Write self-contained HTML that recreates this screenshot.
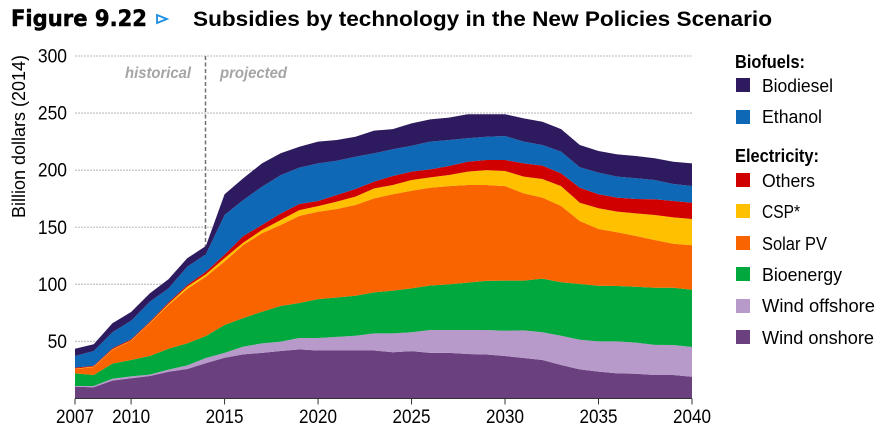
<!DOCTYPE html>
<html lang="en">
<head>
<meta charset="utf-8">
<title>Subsidies by technology in the New Policies Scenario</title>
<style>
html,body{margin:0;padding:0;background:#fff;width:890px;height:433px;overflow:hidden}
svg{display:block;font-family:"Liberation Sans",sans-serif}
</style>
</head>
<body>
<svg id="chart" width="890" height="433" viewBox="0 0 890 433" xmlns="http://www.w3.org/2000/svg">
  <text x="11" y="26" font-family="'DejaVu Sans',sans-serif" font-weight="700" font-size="22" fill="#000" stroke="#000" stroke-width="0.5" textLength="136" lengthAdjust="spacingAndGlyphs">Figure 9.22</text>
  <polygon points="157,15 167,19 157,23" fill="#fff" stroke="#1b8fe0" stroke-width="1.8"/>
  <text x="193" y="26" font-weight="700" font-size="21.5" fill="#000" textLength="579" lengthAdjust="spacingAndGlyphs">Subsidies by technology in the New Policies Scenario</text>

  <g id="grid"></g>
  <line x1="205.5" y1="56" x2="205.5" y2="300" stroke="#707070" stroke-width="1.5" stroke-dasharray="4 2.5"/>
  <text x="125" y="78" font-size="15.5" font-style="italic" font-weight="700" fill="#a5a5a5" textLength="66" lengthAdjust="spacingAndGlyphs">historical</text>
  <text x="220" y="78" font-size="15.5" font-style="italic" font-weight="700" fill="#a5a5a5" textLength="67" lengthAdjust="spacingAndGlyphs">projected</text>
  <g id="areas"></g>
  <g id="axes"></g>
  <text transform="translate(25,218) rotate(-90)" font-size="18" fill="#000" textLength="163" lengthAdjust="spacingAndGlyphs">Billion dollars (2014)</text>

  <g font-size="18" fill="#000">
    <text x="735" y="68" font-weight="700" textLength="70" lengthAdjust="spacingAndGlyphs">Biofuels:</text>
    <rect x="736" y="78" width="14" height="14" fill="#2e1a5e"/>
    <text x="762" y="92" textLength="71" lengthAdjust="spacingAndGlyphs">Biodiesel</text>
    <rect x="736" y="110" width="14" height="14" fill="#0f68b5"/>
    <text x="762" y="123" textLength="60" lengthAdjust="spacingAndGlyphs">Ethanol</text>
    <text x="735" y="162" font-weight="700" textLength="84" lengthAdjust="spacingAndGlyphs">Electricity:</text>
    <rect x="736" y="173" width="14" height="14" fill="#d00000"/>
    <text x="762" y="187" textLength="53" lengthAdjust="spacingAndGlyphs">Others</text>
    <rect x="736" y="204" width="14" height="14" fill="#ffc000"/>
    <text x="762" y="218" textLength="38" lengthAdjust="spacingAndGlyphs">CSP*</text>
    <rect x="736" y="236" width="14" height="14" fill="#f96400"/>
    <text x="762" y="250" textLength="65" lengthAdjust="spacingAndGlyphs">Solar PV</text>
    <rect x="736" y="267" width="14" height="14" fill="#00a83e"/>
    <text x="762" y="281" textLength="80" lengthAdjust="spacingAndGlyphs">Bioenergy</text>
    <rect x="736" y="299" width="14" height="14" fill="#b79aca"/>
    <text x="762" y="312" textLength="113" lengthAdjust="spacingAndGlyphs">Wind offshore</text>
    <rect x="736" y="330" width="14" height="14" fill="#6b407f"/>
    <text x="762" y="344" textLength="112" lengthAdjust="spacingAndGlyphs">Wind onshore</text>
  </g>
</svg>
<script>
const years = [2007,2008,2009,2010,2011,2012,2013,2014,2015,2016,2017,2018,2019,2020,2021,2022,2023,2024,2025,2026,2027,2028,2029,2030,2031,2032,2033,2034,2035,2036,2037,2038,2039,2040];
const xTickLabels = [2007,2010,2015,2020,2025,2030,2035,2040];
const yTickLabels = [50,100,150,200,250,300];
const windOnshore = [10.3,9.9,15.7,17.7,19.7,23.4,25.8,31,35.7,38.6,40,41.6,43,42,42,42,42,40.5,41.5,40,40,39,38.5,37.2,35.5,33.7,29.3,25.5,23.5,22,21.7,20.6,20.6,19];
const windOffshore = [0.7,1.1,1.6,1.7,1.2,1.9,3.2,4.5,4.3,6.8,8.3,8.2,10,11,12,13,15,16.5,16.5,20,20,21,21.5,22.2,24.2,24.3,25.7,26,26.5,28,27.2,26.4,26.3,26.1];
const bioenergy = [11,9.6,13.2,14.3,16.3,18.3,19.3,19.2,24.4,25.1,27.7,31.2,30.6,34,34.5,35,36,37.5,38.5,39,40,41.5,43,43.8,43.5,47,46.8,48.8,48.8,48.5,49,50,50.1,50.2];
const solarPV = [3.8,7,12,16.9,28.7,38.3,47.6,52,55.6,63.9,68.7,71,76.4,76.6,77.5,79.5,82.3,84.4,85.5,85.6,86,85.5,84,82.8,76.5,71,66.8,55.2,49.7,47.1,44.4,41.8,38.6,38.9];
const csp = [0.4,0.4,0.5,0.4,0.6,1.1,2.1,2.1,3,2.1,2.9,4.3,5,4.9,6.4,7.3,8.7,8.1,9.4,9.1,9.8,11.7,13,13.3,14.6,16.3,17.4,16,18.1,18.1,19.9,21.9,23.1,23];
const others = [0.8,0.7,1,0.9,0.8,1.3,1.4,2.2,3,5.8,4.4,5.7,5.4,4.5,5.8,6.7,6,7.9,7.3,7,7.8,8.7,8.9,9.6,11.7,11.7,11.2,13.1,12.3,12.2,12.5,13.8,14.3,14.3];
const ethanol = [10.2,12.9,14,16.2,17.5,12.2,16,15.3,34.7,31.6,33.5,33.7,31.8,33,30.1,28.3,24.8,23.4,22.7,24.3,22.8,20.5,20.4,21,19,18,19,17.9,18.9,18.4,18.2,16.9,14.9,14.6];
const biodiesel = [6.4,5.9,7.9,7.7,7.3,7.9,7.4,7.3,18.2,19,20.5,19.1,18.3,19,18.1,17.5,19.8,17.7,19.6,19.5,19.6,21.1,19.7,19.1,20.4,20.4,19.8,19.5,19,19.5,19.5,19,19.5,19.9];

const seriesNames = ['wind-onshore','wind-offshore','bioenergy','solar-pv','csp','others','ethanol','biodiesel'];
const seriesColors = ['#6b407f','#b79aca','#00a83e','#f96400','#ffc000','#d00000','#0f68b5','#2e1a5e'];
const seriesValues = [windOnshore,windOffshore,bioenergy,solarPV,csp,others,ethanol,biodiesel];

const NS = 'http://www.w3.org/2000/svg';
function xScale(year){ return 75 + (year - 2007) * (692 - 75) / (2040 - 2007); }
function yScale(value){ return 398.5 - value * (398.5 - 56) / 300; }

const gridGroup = document.getElementById('grid');
const areaGroup = document.getElementById('areas');
const axisGroup = document.getElementById('axes');

yTickLabels.forEach(function(v){
  const line = document.createElementNS(NS,'line');
  
  
  line.setAttribute('x1', xScale(2007));
  line.setAttribute('x2', xScale(2040) + 1);
  line.setAttribute('y1', yScale(v));
  line.setAttribute('y2', yScale(v));
  line.setAttribute('stroke', '#c8c8c8');
  line.setAttribute('stroke-width', '1.3');
  line.setAttribute('stroke-dasharray', '2 1');
  gridGroup.appendChild(line);

  const label = document.createElementNS(NS,'text');
  
  
  label.setAttribute('x', 67);
  label.setAttribute('y', yScale(v) + 6.5);
  label.setAttribute('text-anchor', 'end');
  label.setAttribute('font-size', '19');
  label.setAttribute('fill', '#000');
  label.setAttribute('textLength', String(v).length * 9.7);
  label.setAttribute('lengthAdjust', 'spacingAndGlyphs');
  label.textContent = v;
  axisGroup.appendChild(label);
});

const running = years.map(function(){ return 0; });
seriesValues.forEach(function(values, s){
  const lower = running.slice();
  values.forEach(function(v, i){ running[i] += v; });
  const top = years.map(function(y, i){ return xScale(y).toFixed(2) + ',' + yScale(running[i]).toFixed(2); });
  const bottom = years.map(function(y, i){ return xScale(y).toFixed(2) + ',' + yScale(lower[i]).toFixed(2); }).reverse();
  const area = document.createElementNS(NS,'polygon');
  
  
  area.setAttribute('points', top.concat(bottom).join(' '));
  area.setAttribute('fill', seriesColors[s]);
  areaGroup.appendChild(area);
});

const axisLine = document.createElementNS(NS,'line');


axisLine.setAttribute('x1', xScale(2007));
axisLine.setAttribute('x2', xScale(2040));
axisLine.setAttribute('y1', yScale(0));
axisLine.setAttribute('y2', yScale(0));
axisLine.setAttribute('stroke', '#333');
axisLine.setAttribute('stroke-width', '1');
axisGroup.appendChild(axisLine);

xTickLabels.forEach(function(y){
  const tick = document.createElementNS(NS,'line');
  
  
  tick.setAttribute('x1', xScale(y));
  tick.setAttribute('x2', xScale(y));
  tick.setAttribute('y1', yScale(0));
  tick.setAttribute('y2', yScale(0) + 6);
  tick.setAttribute('stroke', '#333');
  tick.setAttribute('stroke-width', '1');
  axisGroup.appendChild(tick);

  const label = document.createElementNS(NS,'text');
  
  
  label.setAttribute('x', xScale(y));
  label.setAttribute('y', 423);
  label.setAttribute('text-anchor', 'middle');
  label.setAttribute('font-size', '19');
  label.setAttribute('fill', '#000');
  label.setAttribute('textLength', '38');
  label.setAttribute('lengthAdjust', 'spacingAndGlyphs');
  label.textContent = y;
  axisGroup.appendChild(label);
});
</script>
</body>
</html>
